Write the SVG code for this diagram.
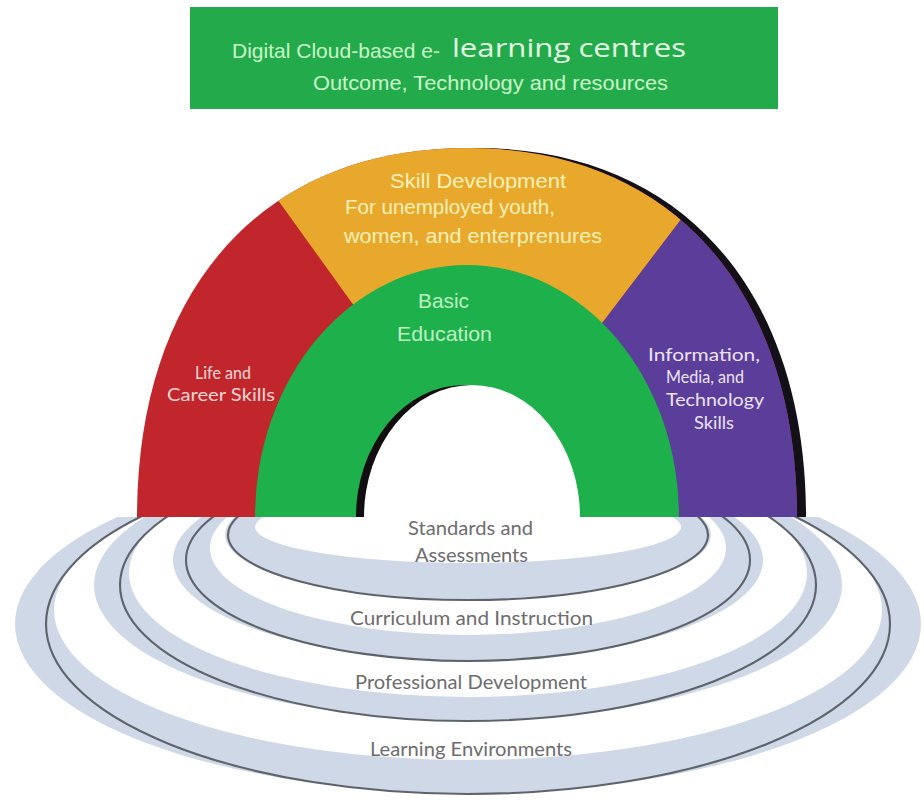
<svg xmlns="http://www.w3.org/2000/svg" width="924" height="803" viewBox="0 0 924 803">
  <defs>
    <clipPath id="belowBase">
      <rect x="0" y="517" width="924" height="286"/>
    </clipPath>
    <clipPath id="outerArch">
      <path d="M137,517 C137,290 262,148 467,148 C672,148 797,290 797,517 Z"/>
    </clipPath>
    <style>
      .band { fill: #ced8e7; fill-rule: evenodd; }
      .edge { fill: none; stroke: #5d636b; stroke-width: 2.1; }
      .ringText { font-family: Lato, "Open Sans", sans-serif; font-size: 20px; fill: #6d6d6d; }
      .narrow { font-family: "Liberation Sans", Arial, sans-serif; font-size: 21px; }
      .gill { font-family: Lato, "Open Sans", sans-serif; font-size: 18px; }
    </style>
  </defs>

  <rect width="924" height="803" fill="#ffffff"/>

  <!-- Title banner -->
  <g id="banner">
    <rect x="190" y="7" width="588" height="102" fill="#22aa4b"/>
    <text class="narrow" x="232" y="58" font-size="20" fill="#c9f7c9" textLength="208" lengthAdjust="spacingAndGlyphs">Digital Cloud-based e-</text>
    <text x="452" y="57" font-family="'Open Sans', sans-serif" font-size="26" fill="#e4fbe4" textLength="234" lengthAdjust="spacingAndGlyphs">learning centres</text>
    <text class="narrow" x="313" y="90" font-size="21" fill="#c9f7c9" textLength="355" lengthAdjust="spacingAndGlyphs">Outcome, Technology and resources</text>
  </g>

  <!-- Rings under the arch, outermost first -->
  <g id="rings" clip-path="url(#belowBase)">
    <g id="ring-learning-environments">
      <path class="band" d="M15,624 a453,169 0 1,0 906,0 a453,169 0 1,0 -906,0 Z M54,610 a414,150 0 1,0 828,0 a414,150 0 1,0 -828,0 Z"/>
      <ellipse class="edge" cx="468" cy="624" rx="422" ry="170"/>
      <text class="ringText" x="370" y="756" textLength="202" lengthAdjust="spacingAndGlyphs">Learning Environments</text>
    </g>
    <g id="ring-professional-development">
      <path class="band" d="M94,585 a374,135 0 1,0 748,0 a374,135 0 1,0 -748,0 Z M129,573 a339,124 0 1,0 678,0 a339,124 0 1,0 -678,0 Z"/>
      <ellipse class="edge" cx="468" cy="585" rx="348" ry="136"/>
      <text class="ringText" x="355" y="689" textLength="232" lengthAdjust="spacingAndGlyphs">Professional Development</text>
    </g>
    <g id="ring-curriculum">
      <path class="band" d="M173,560 a295,100 0 1,0 590,0 a295,100 0 1,0 -590,0 Z M210,548 a258,87 0 1,0 516,0 a258,87 0 1,0 -516,0 Z"/>
      <ellipse class="edge" cx="468" cy="560" rx="282" ry="101"/>
      <text class="ringText" x="350" y="625" textLength="243" lengthAdjust="spacingAndGlyphs">Curriculum and Instruction</text>
    </g>
    <g id="ring-standards">
      <path class="band" d="M225,535 a243,64 0 1,0 486,0 a243,64 0 1,0 -486,0 Z M255,527 a213,36 0 1,0 426,0 a213,36 0 1,0 -426,0 Z"/>
      <ellipse class="edge" cx="468" cy="535" rx="240" ry="65"/>
      <text class="ringText" x="408" y="535" textLength="125" lengthAdjust="spacingAndGlyphs">Standards and</text>
      <text class="ringText" x="415" y="562" textLength="113" lengthAdjust="spacingAndGlyphs">Assessments</text>
    </g>
  </g>

  <!-- Arch -->
  <g id="arch">
    <!-- drop shadow on the right rim -->
    <path d="M137,517 C137,290 262,148 467,148 C672,148 797,290 797,517 Z" fill="#141018" transform="translate(9,0)"/>

    <g id="life-career-skills">
      <path d="M137,517 C137,290 262,148 467,148 C672,148 797,290 797,517 Z" fill="#c1262d"/>
      <text class="gill" x="195" y="379" fill="#f8d7d4" textLength="56" lengthAdjust="spacingAndGlyphs">Life and</text>
      <text class="gill" x="167" y="401" fill="#f8d7d4" textLength="108" lengthAdjust="spacingAndGlyphs">Career Skills</text>
    </g>

    <g id="skill-development">
      <polygon points="352,303 206,100 772,100 603,322 467,420" fill="#e8a82c" clip-path="url(#outerArch)"/>
      <text class="narrow" x="390" y="188" fill="#fdf1b8" textLength="176" lengthAdjust="spacingAndGlyphs">Skill Development</text>
      <text class="narrow" x="345" y="214" fill="#fdf1b8" textLength="210" lengthAdjust="spacingAndGlyphs">For unemployed youth,</text>
      <text class="narrow" x="344" y="243" fill="#fdf1b8" textLength="258" lengthAdjust="spacingAndGlyphs">women, and enterprenures</text>
    </g>

    <g id="information-media-technology">
      <polygon points="603,322 772,100 920,100 920,520 467,520" fill="#5a3e9a" clip-path="url(#outerArch)"/>
      <text class="gill" x="648" y="361" fill="#ece3f8" textLength="112" lengthAdjust="spacingAndGlyphs">Information,</text>
      <text class="gill" x="666" y="383" fill="#ece3f8" textLength="78" lengthAdjust="spacingAndGlyphs">Media, and</text>
      <text class="gill" x="666" y="406" fill="#ece3f8" textLength="98" lengthAdjust="spacingAndGlyphs">Technology</text>
      <text class="gill" x="694" y="429" fill="#ece3f8" textLength="40" lengthAdjust="spacingAndGlyphs">Skills</text>
    </g>

    <g id="basic-education">
      <path d="M255,517 A212,252 0 0 1 679,517 Z" fill="#1db04b"/>
      <!-- opening: dark inner rim, then the white doorway -->
      <path d="M356,517 A108,132 0 0 1 572,517 Z" fill="#120d10"/>
      <path d="M364,517 A108,132 0 0 1 580,517 Z" fill="#ffffff"/>
      <text class="narrow" x="418" y="308" fill="#bdf2c4" textLength="51" lengthAdjust="spacingAndGlyphs">Basic</text>
      <text class="narrow" x="397" y="341" fill="#bdf2c4" textLength="95" lengthAdjust="spacingAndGlyphs">Education</text>
    </g>
  </g>
</svg>
